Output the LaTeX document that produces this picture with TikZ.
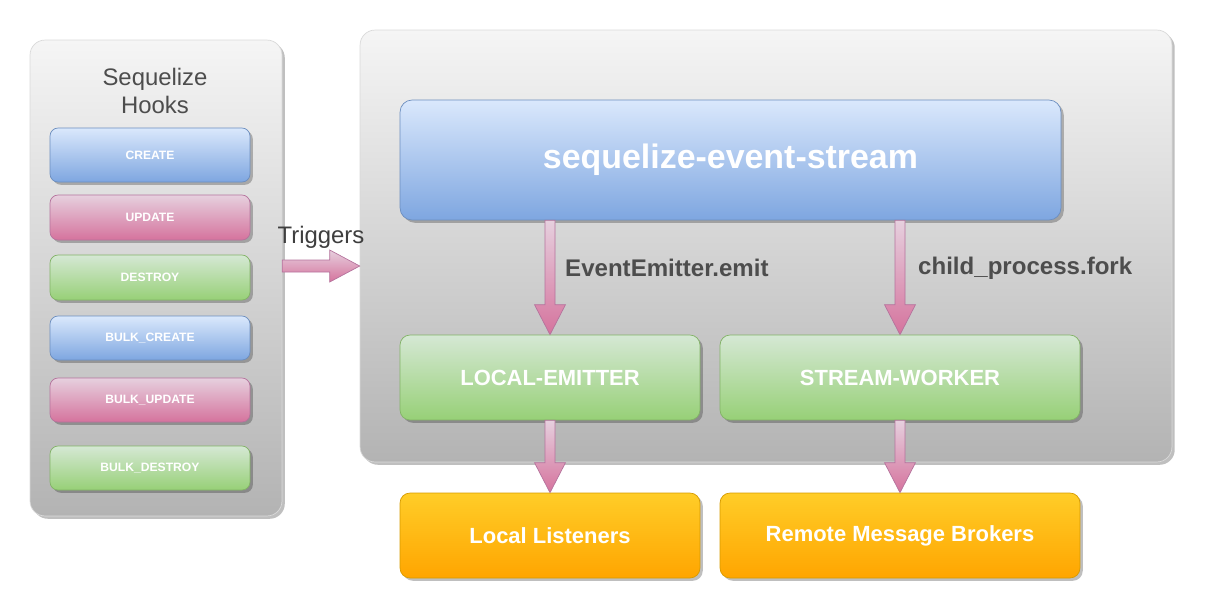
\documentclass[tikz,border=0pt]{standalone}
\usepackage{fontspec}
\setmainfont{Liberation Sans}
\usetikzlibrary{calc,shadows}
\definecolor{blueT}{HTML}{DAE8FC}
\definecolor{blueB}{HTML}{7EA6E0}
\definecolor{blueD}{HTML}{6C8EBF}
\definecolor{pinkT}{HTML}{E6D0DE}
\definecolor{pinkB}{HTML}{D5739D}
\definecolor{pinkD}{HTML}{B5739D}
\definecolor{greenT}{HTML}{D5E8D4}
\definecolor{greenB}{HTML}{97D077}
\definecolor{greenD}{HTML}{82B366}
\definecolor{orangeT}{HTML}{FFCD28}
\definecolor{orangeB}{HTML}{FFA500}
\definecolor{orangeD}{HTML}{D79B00}
\definecolor{grayT}{HTML}{F5F5F5}
\definecolor{grayB}{HTML}{B3B3B3}
\definecolor{txtgray}{HTML}{4D4D4D}
\newcommand{\varrow}[2]{\draw[pinkarrow] ($(#1)+(-0.1cm,0)$) -- ($(#2)+(-0.1cm,0.6cm)$)
  -- ($(#2)+(-0.31cm,0.6cm)$) -- (#2) -- ($(#2)+(0.31cm,0.6cm)$)
  -- ($(#2)+(0.1cm,0.6cm)$) -- ($(#1)+(0.1cm,0)$) -- cycle;}
\newcommand{\harrow}[2]{\draw[pinkarrow] ($(#1)+(0,0.12cm)$) -- ($(#2)+(-0.6cm,0.12cm)$)
  -- ($(#2)+(-0.6cm,0.32cm)$) -- (#2) -- ($(#2)+(-0.6cm,-0.32cm)$)
  -- ($(#2)+(-0.6cm,-0.12cm)$) -- ($(#1)+(0,-0.12cm)$) -- cycle;}
\begin{document}
\begin{tikzpicture}[x=0.02cm,y=-0.02cm,
  shade/.style={drop shadow={shadow xshift=1.6pt,shadow yshift=-1.6pt,opacity=0.25,fill=black}},
  panel/.style={shade,draw=black!15,rounded corners=0.3cm,top color=grayT,bottom color=grayB},
  box/.style={shade,rounded corners=0.2cm,text=white,font=\bfseries\fontsize{12.5}{15}\selectfont},
  hook/.style={box,rounded corners=0.16cm,minimum width=4cm,font=\bfseries\fontsize{6.9}{8}\selectfont},
  bluebox/.style={draw=blueD,top color=blueT,bottom color=blueB},
  pinkbox/.style={draw=pinkD,top color=pinkT,bottom color=pinkB},
  greenbox/.style={draw=greenD,top color=greenT,bottom color=greenB},
  orangebox/.style={draw=orangeD,top color=orangeT,bottom color=orangeB},
  pinkarrow/.style={draw=pinkD,top color=pinkT,bottom color=pinkB,line width=0.4pt},
  lbl/.style={anchor=west,text=txtgray,font=\bfseries\fontsize{13.7}{16}\selectfont}]
\useasboundingbox (0,0) rectangle (1205,613);
\node[panel,minimum width=5.04cm,minimum height=9.52cm] (hooks) at (156,278) {};
\node[align=center,text=txtgray,font=\fontsize{13.6}{15.6}\selectfont] (title) at (155,91) {Sequelize\\Hooks};
\foreach \n/\y/\h/\c/\t in {create/155/1.08/bluebox/CREATE,update/217.5/0.9/pinkbox/UPDATE,
  destroy/277.5/0.9/greenbox/DESTROY,bcreate/338/0.88/bluebox/BULK\_CREATE,
  bupdate/400/0.88/pinkbox/BULK\_UPDATE,bdestroy/468/0.88/greenbox/BULK\_DESTROY}
  \node[hook,\c,minimum height=\h cm] (\n) at (150,\y) {\t};
\node[panel,minimum width=16.24cm,minimum height=8.64cm] (core) at (766,246) {};
\node[box,bluebox,rounded corners=0.24cm,minimum width=13.22cm,minimum height=2.4cm,
  font=\bfseries\fontsize{19.3}{22}\selectfont] (evs) at (730.5,160) {sequelize-event-stream};
\node[box,greenbox,minimum width=6cm,minimum height=1.7cm] (le) at (550,377.5) {LOCAL-EMITTER};
\node[box,greenbox,minimum width=7.2cm,minimum height=1.7cm] (sw) at (900,377.5) {STREAM-WORKER};
\node[box,orangebox,minimum width=6cm,minimum height=1.7cm] (ll) at (550,535.5) {Local Listeners};
\node[box,orangebox,minimum width=7.2cm,minimum height=1.7cm] (rmb) at (900,535.5) {Remote Message Brokers};
\coordinate (t1) at (hooks.east |- 0,266);
\coordinate (t2) at (core.west |- 0,266);
\harrow{t1}{t2}
\node[text=txtgray!80!black,font=\fontsize{13.6}{16}\selectfont] (trig) at (321,237) {Triggers};
\varrow{evs.south -| le.north}{le.north}
\varrow{evs.south -| sw.north}{sw.north}
\varrow{le.south}{ll.north}
\varrow{sw.south}{rmb.north}
\node[lbl] (emit) at (559,268) {EventEmitter.emit};
\node[lbl] (fork) at (912,268) {child\_process.fork};
\end{tikzpicture}
\end{document}
